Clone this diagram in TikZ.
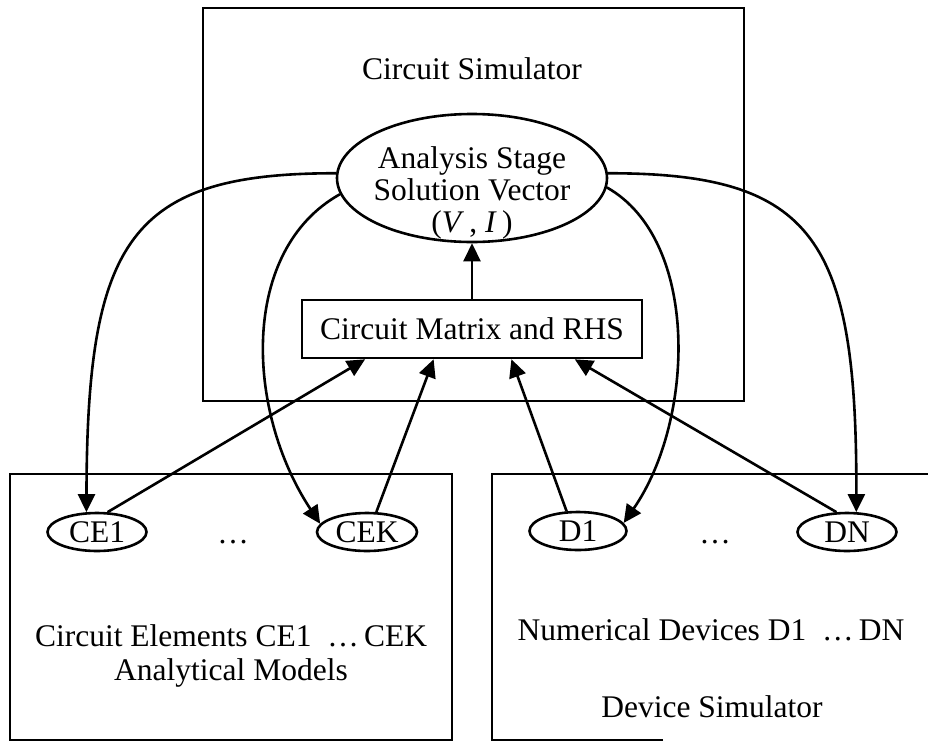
\documentclass[tikz,border=0pt]{standalone}
\usepackage{fontspec}
\setmainfont{Liberation Serif}
\usetikzlibrary{arrows.meta,shapes.geometric,calc}

\begin{document}
\begin{tikzpicture}[x=1pt,y=-1pt,
  every node/.style={font=\fontsize{31.5}{32}\selectfont, inner sep=0pt},
  frame/.style={line width=2.8pt},
  oval/.style={draw, ellipse, line width=2.6pt, minimum width=99pt, minimum height=38pt},
  link/.style={line width=2.6pt, -{Triangle[length=18pt,width=17pt]}}]

\fill[white] (0,0) rectangle (928,747);
\useasboundingbox (0,0) rectangle (928,747);

% circuit simulator frame
\draw[frame] (203,8) rectangle (744,401);
\node (simlabel) at (472,69) {Circuit Simulator};
\node[draw, ellipse, line width=2.6pt, minimum width=270pt, minimum height=128pt] (sol) at (472,178) {};
\node[align=center] (soltext) at (472,193) {Analysis Stage\\Solution Vector\\(\textit{V}\,, \textit{I}\,)};
\node[draw, line width=2.6pt, minimum width=340pt, minimum height=58pt] (mat) at (472,329) {Circuit Matrix and RHS};

% lower frames
\draw[frame] (10,474) rectangle (452,740);
\draw[frame] (663,740) -- (492,740) -- (492,474) -- (928,474);

% element and device nodes
\node[oval] (CE1) at (97,532) {CE1};
\node[oval, minimum width=100pt] (CEK) at (367,532) {CEK};
\node[oval, minimum width=97pt] (D1) at (578,531) {D1};
\node[oval] (DN) at (847,532) {DN};

\node (dotsL) at (233,542) {…};
\node (dotsR) at (715,542) {…};

\node (ceText) at (231,636) {Circuit Elements CE1~~…\,CEK};
\node (amText) at (231,673) {Analytical Models};
\node (ndText) at (711,630) {Numerical Devices D1~~…\,DN};
\node (dsText) at (712,707) {Device Simulator};

% entry points on the matrix box
\coordinate (m1) at ($(mat.south west)!0.188!(mat.south east)$);
\coordinate (m2) at ($(mat.south west)!0.388!(mat.south east)$);
\coordinate (m3) at ($(mat.south west)!0.615!(mat.south east)$);
\coordinate (m4) at ($(mat.south west)!0.8!(mat.south east)$);

% solution vector distributed to the models
\draw[link] (sol.178) .. controls (130,173) and (87,240) .. (CE1.118);
\draw[link] (sol.187) .. controls (240,250) and (245,410) .. (CEK.170);
\draw[link] (sol.356) .. controls (700,240) and (695,420) .. (D1.10);
\draw[link] (sol.2) .. controls (815,173) and (857,240) .. (DN.65);

% contributions assembled into the matrix
\draw[link] (mat.north) -- (sol.south);
\draw[link] (CE1.62) -- (m1);
\draw[link] (CEK.65) -- (m2);
\draw[link] (D1.120) -- (m3);
\draw[link] (DN.118) -- (m4);
\end{tikzpicture}
\end{document}
